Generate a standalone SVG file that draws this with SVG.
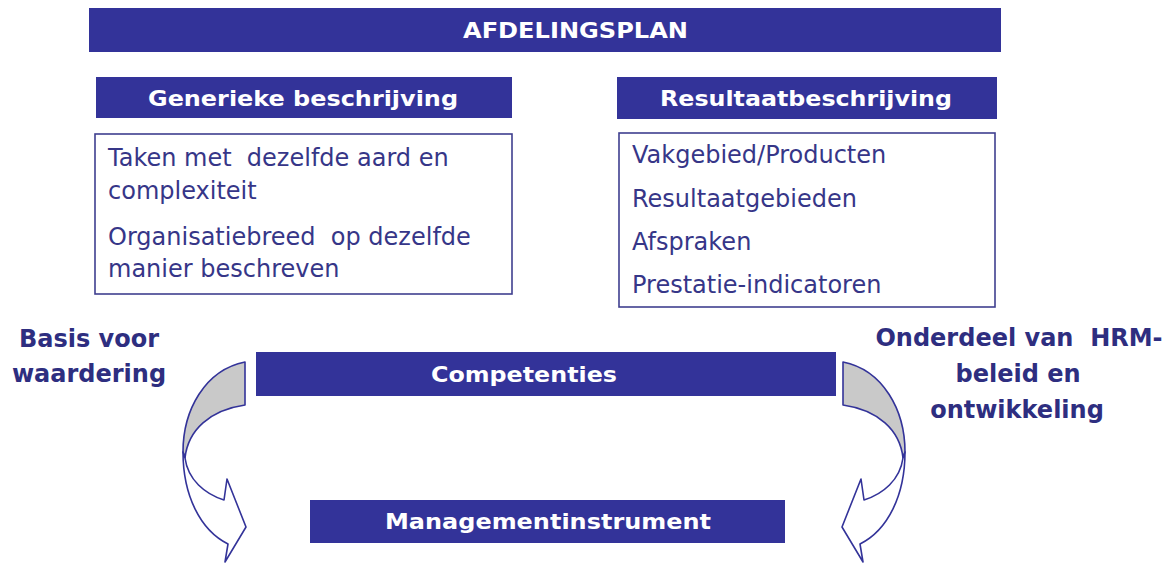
<svg xmlns="http://www.w3.org/2000/svg" width="1169" height="564" viewBox="0 0 1169 564">
<style>
.bar{fill:#333399}
.box{fill:#ffffff;stroke:#3f3f8f;stroke-width:1.6}
.hd{font-family:"DejaVu Sans",Verdana,sans-serif;font-weight:bold;fill:#ffffff;font-size:22px}
.bd{font-family:"DejaVu Sans",Verdana,sans-serif;fill:#363688;font-size:24px;white-space:pre}
.lb{font-family:"DejaVu Sans",Verdana,sans-serif;font-weight:bold;fill:#2e2e80;font-size:24px;text-anchor:middle;white-space:pre}
.arw{stroke:#333399;stroke-width:1.6;stroke-linejoin:round}
</style>
<rect width="1169" height="564" fill="#ffffff"/>
<g id="afdelingsplan">
<rect class="bar" x="89" y="8" width="912" height="44"/>
<text class="hd" x="463" y="38" font-size="21" textLength="225" lengthAdjust="spacingAndGlyphs">AFDELINGSPLAN</text>
</g>
<g id="generieke-header">
<rect class="bar" x="96" y="77" width="416" height="41"/>
<text class="hd" x="148" y="106" textLength="310" lengthAdjust="spacingAndGlyphs">Generieke beschrijving</text>
</g>
<g id="generieke-box">
<rect class="box" x="95" y="134" width="417" height="160"/>
<text class="bd" x="108" y="166">Taken met  dezelfde aard en</text>
<text class="bd" x="108" y="199">complexiteit</text>
<text class="bd" x="108" y="245">Organisatiebreed  op dezelfde</text>
<text class="bd" x="108" y="277">manier beschreven</text>
</g>
<g id="resultaat-header">
<rect class="bar" x="617" y="77" width="380" height="42"/>
<text class="hd" x="660" y="106" textLength="292" lengthAdjust="spacingAndGlyphs">Resultaatbeschrijving</text>
</g>
<g id="resultaat-box">
<rect class="box" x="619" y="133" width="376" height="174"/>
<text class="bd" x="632" y="163">Vakgebied/Producten</text>
<text class="bd" x="632" y="207">Resultaatgebieden</text>
<text class="bd" x="632" y="250">Afspraken</text>
<text class="bd" x="632" y="293">Prestatie-indicatoren</text>
</g>
<g id="competenties">
<rect class="bar" x="256" y="352" width="580" height="44"/>
<text class="hd" x="431" y="382" textLength="186" lengthAdjust="spacingAndGlyphs">Competenties</text>
</g>
<g id="managementinstrument">
<rect class="bar" x="310" y="500" width="475" height="43"/>
<text class="hd" x="385" y="529" textLength="326" lengthAdjust="spacingAndGlyphs">Managementinstrument</text>
</g>
<g id="label-basis">
<text class="lb" x="89" y="347">Basis voor</text>
<text class="lb" x="89" y="382">waardering</text>
</g>
<g id="label-onderdeel">
<text class="lb" x="1019" y="346">Onderdeel van  HRM-</text>
<text class="lb" x="1018" y="382">beleid en</text>
<text class="lb" x="1017" y="418">ontwikkeling</text>
</g>
<g id="connectors">
<g id="arrow-left">
<path class="arw" fill="#c9c9c9" d="M245,362 C205,370 183,410 183,452 L185,458 C188,430 210,410 245,405 Z"/>
<path class="arw" fill="#ffffff" d="M183,452 C183,495 200,530 228,544 L225,562 L246,527 L227,479 L224,500 C205,494 188,480 185,458 Z"/>
</g>
<g id="arrow-right" transform="translate(1088,0) scale(-1,1)">
<path class="arw" fill="#c9c9c9" d="M245,362 C205,370 183,410 183,452 L185,458 C188,430 210,410 245,405 Z"/>
<path class="arw" fill="#ffffff" d="M183,452 C183,495 200,530 228,544 L225,562 L246,527 L227,479 L224,500 C205,494 188,480 185,458 Z"/>
</g>
</g>
</svg>
